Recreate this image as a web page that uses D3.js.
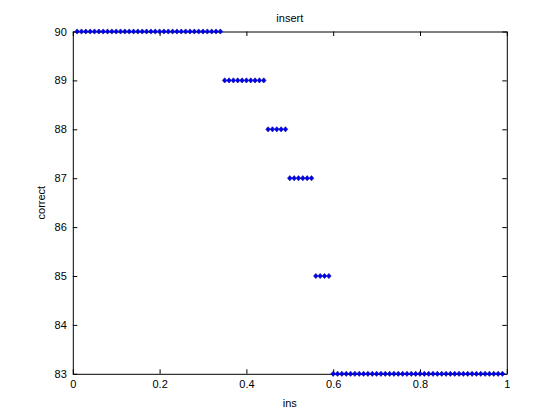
<!DOCTYPE html>
<html>
<head>
<meta charset="utf-8">
<script src="https://cdn.jsdelivr.net/npm/d3@7"></script>
<style>
  html, body { margin: 0; padding: 0; background: #fff; }
  svg { display: block; }
  text { font-family: "Liberation Sans", Arial, Helvetica, sans-serif; fill: #000; }
</style>
</head>
<body>
<svg id="chart" width="560" height="420"></svg>
<script>
// Data: x values (ins) per correct level
const insValues = [
  0.01,0.02,0.03,0.04,0.05,0.06,0.07,0.08,0.09,0.10,0.11,0.12,0.13,0.14,0.15,0.16,0.17,
  0.18,0.19,0.20,0.21,0.22,0.23,0.24,0.25,0.26,0.27,0.28,0.29,0.30,0.31,0.32,0.33,0.34,
  0.35,0.36,0.37,0.38,0.39,0.40,0.41,0.42,0.43,0.44,
  0.45,0.46,0.47,0.48,0.49,
  0.50,0.51,0.52,0.53,0.54,0.55,
  0.56,0.57,0.58,0.59,
  0.60,0.61,0.62,0.63,0.64,0.65,0.66,0.67,0.68,0.69,0.70,0.71,0.72,0.73,0.74,0.75,0.76,
  0.77,0.78,0.79,0.80,0.81,0.82,0.83,0.84,0.85,0.86,0.87,0.88,0.89,0.90,0.91,0.92,0.93,
  0.94,0.95,0.96,0.97,0.98,0.99
];
const correctValues = [
  90,90,90,90,90,90,90,90,90,90,90,90,90,90,90,90,90,
  90,90,90,90,90,90,90,90,90,90,90,90,90,90,90,90,90,
  89,89,89,89,89,89,89,89,89,89,
  88,88,88,88,88,
  87,87,87,87,87,87,
  85,85,85,85,
  83,83,83,83,83,83,83,83,83,83,83,83,83,83,83,83,83,
  83,83,83,83,83,83,83,83,83,83,83,83,83,83,83,83,83,
  83,83,83,83,83,83
];
const xTicks = [0, 0.2, 0.4, 0.6, 0.8, 1];
const xTickLabels = ["0", "0.2", "0.4", "0.6", "0.8", "1"];
const yTicks = [83, 84, 85, 86, 87, 88, 89, 90];
const yTickLabels = ["83", "84", "85", "86", "87", "88", "89", "90"];
const titleText = "insert";
const xLabelText = "ins";
const yLabelText = "correct";

const W = 560, H = 420;
const mLeft = 72.8, mRight = 506.8, mTop = 31.5, mBottom = 373.8;

const svg = d3.select("#chart");
const x = d3.scaleLinear().domain([0, 1]).range([mLeft, mRight]);
const y = d3.scaleLinear().domain([83, 90]).range([mBottom, mTop]);

const tickLen = 4.5;
const g = svg.append("g");

const xAxisB = d3.axisBottom(x).tickValues(xTicks).tickFormat((d, i) => xTickLabels[i])
  .tickSizeInner(-tickLen).tickSizeOuter(0).tickPadding(6);
const xAxisT = d3.axisTop(x).tickValues(xTicks).tickFormat("")
  .tickSizeInner(-tickLen).tickSizeOuter(0);
const yAxisL = d3.axisLeft(y).tickValues(yTicks).tickFormat((d, i) => yTickLabels[i])
  .tickSizeInner(-tickLen).tickSizeOuter(0).tickPadding(6);
const yAxisR = d3.axisRight(y).tickValues(yTicks).tickFormat("")
  .tickSizeInner(-tickLen).tickSizeOuter(0);

function styleAxis(sel) {
  sel.select(".domain").attr("stroke", "#000").attr("stroke-width", 1);
  sel.selectAll(".tick line").attr("stroke", "#000").attr("stroke-width", 1);
  sel.selectAll(".tick text").attr("font-size", 11)
    .attr("font-family", '"Liberation Sans", Arial, Helvetica, sans-serif').attr("fill", "#000");
}

g.append("g").attr("transform", `translate(0,${mBottom})`).call(xAxisB).call(styleAxis);
g.append("g").attr("transform", `translate(0,${mTop})`).call(xAxisT).call(styleAxis);
g.append("g").attr("transform", `translate(${mLeft},0)`).call(yAxisL).call(styleAxis);
g.append("g").attr("transform", `translate(${mRight},0)`).call(yAxisR).call(styleAxis);

// markers
const pts = insValues.map((v, i) => ({ x: v, y: correctValues[i] }))
  .filter(d => d.y !== undefined);
const diamond = "M0,-2.6L2.3,0L0,2.6L-2.3,0Z";
svg.append("g").selectAll("path").data(pts).join("path")
  .attr("d", diamond)
  .attr("transform", d => `translate(${x(d.x)},${y(d.y)})`)
  .attr("fill", "#0000ff")
  .attr("stroke", "#00008b")
  .attr("stroke-width", 0.6);

// labels
svg.append("text").attr("x", (mLeft + mRight) / 2).attr("y", 22)
  .attr("text-anchor", "middle").attr("font-size", 11).text(titleText);
svg.append("text").attr("x", (mLeft + mRight) / 2).attr("y", 407)
  .attr("text-anchor", "middle").attr("font-size", 11).text(xLabelText);
svg.append("text").attr("transform", `translate(45,${(mTop + mBottom) / 2}) rotate(-90)`)
  .attr("text-anchor", "middle").attr("font-size", 11).text(yLabelText);
</script>
</body>
</html>
